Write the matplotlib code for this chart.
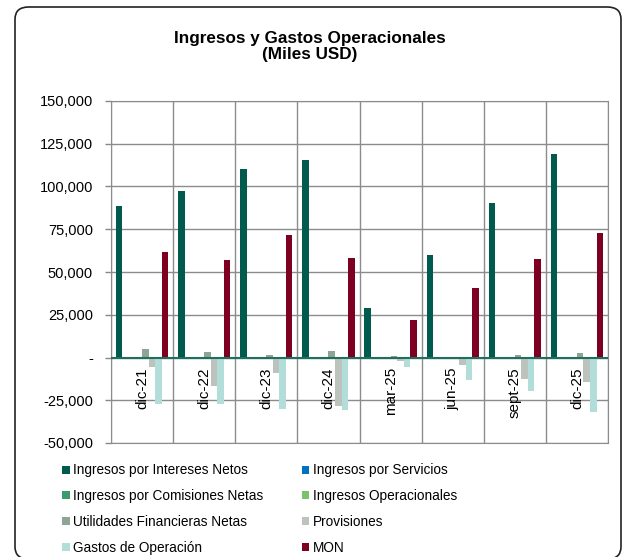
import matplotlib
matplotlib.use("Agg")
import matplotlib.pyplot as plt
from matplotlib.patches import FancyBboxPatch, Patch
from matplotlib.ticker import FuncFormatter

plt.rcParams['font.family'] = ['Liberation Sans', 'DejaVu Sans']

# Datos (miles USD)
periodos = ["dic-21", "dic-22", "dic-23", "dic-24", "mar-25", "jun-25", "sept-25", "dic-25"]
intereses = [88400, 97500, 110400, 115600, 29100, 60200, 90400, 119100]
servicios = [100, 100, 100, 100, 100, 100, 100, 100]
comisiones = [500, 200, 200, -800, 200, -300, -1000, -1000]
operacionales = [500, 200, 300, 200, 300, 200, 300, 300]
utilidades = [5200, 3300, 1300, 3700, 800, 200, 1700, 2900]
provisiones = [-5800, -16500, -9300, -28600, -2000, -4500, -12700, -14600]
gastos = [-27200, -27200, -30100, -30500, -5800, -13200, -19800, -32100]
mon = [61800, 57300, 71900, 58300, 21700, 40800, 57700, 72900]

series = [
    ("Ingresos por Intereses Netos", intereses, "#005A4E"),
    ("Ingresos por Servicios", servicios, "#0070C0"),
    ("Ingresos por Comisiones Netas", comisiones, "#3C9A6E"),
    ("Ingresos Operacionales", operacionales, "#7CC26B"),
    ("Utilidades Financieras Netas", utilidades, "#8EA596"),
    ("Provisiones", provisiones, "#BCC3BD"),
    ("Gastos de Operación", gastos, "#B3DDD8"),
    ("MON", mon, "#7D0023"),
]

W, H = 622, 557
fig = plt.figure(figsize=(W / 100, H / 100), dpi=100)

# marco redondeado exterior (se corta por abajo y a la derecha, como en la imagen)
marco = FancyBboxPatch((15 / W, -2 / H), 606 / W, 552 / H,
                       boxstyle="round,pad=0,rounding_size=0.022",
                       transform=fig.transFigure, fill=False,
                       edgecolor="#222222", linewidth=1.2)
fig.patches.append(marco)

ax = fig.add_axes([111 / W, (H - 443) / H, (608 - 111) / W, (443 - 101) / H])

n = len(series)
ancho = 1 / (n + 1.5)
x = list(range(len(periodos)))
for i, (nombre, valores, color) in enumerate(series):
    off = (i - (n - 1) / 2) * ancho
    ax.bar([xi + off for xi in x], valores, width=ancho, color=color, label=nombre, zorder=3)

ax.set_xlim(-0.5, len(periodos) - 0.5)
ax.set_ylim(-50000, 150000)
ax.set_yticks(range(-50000, 150001, 25000))
ax.yaxis.set_major_formatter(FuncFormatter(lambda v, p: "-" if v == 0 else f"{v:,.0f}"))
ax.tick_params(axis='y', labelsize=10.5, length=4, width=1, color="#888888", pad=9)
ax.set_xticks([])
ax.grid(axis='y', color="#8c8c8c", linewidth=1, zorder=0)
for b in range(len(periodos) + 1):
    ax.axvline(b - 0.5, color="#8c8c8c", linewidth=1, zorder=0)
for s in ax.spines.values():
    s.set_color("#8c8c8c")
ax.axhline(0, color="#1f6f5f", linewidth=1.5, zorder=4)

# etiquetas de categoría junto al eje
for xi, p in zip(x, periodos):
    ax.annotate(p, (xi, 0), xytext=(0, -7), textcoords="offset points",
                rotation=90, ha="center", va="top", fontsize=11, zorder=5)

fig.text(310 / W, 1 - 38 / H, "Ingresos y Gastos Operacionales", ha="center", va="center",
         fontsize=12.3, fontweight="bold")
fig.text(310 / W, 1 - 55 / H, "(Miles USD)", ha="center", va="center",
         fontsize=12.3, fontweight="bold")

# leyenda por filas: reordenar para que matplotlib (por columnas) quede igual
handles = [Patch(facecolor=c, edgecolor="none", label=nm) for nm, _, c in series]
handles = handles[0::2] + handles[1::2]
fig.legend(handles=handles, ncol=2, loc="upper left",
           bbox_to_anchor=(57 / W, 1 - 458 / H), frameon=False, fontsize=9.8,
           handlelength=0.55, handleheight=0.55, handletextpad=0.25,
           columnspacing=2.8, labelspacing=0.86, borderaxespad=0)

fig.savefig("out.png", dpi=100)
